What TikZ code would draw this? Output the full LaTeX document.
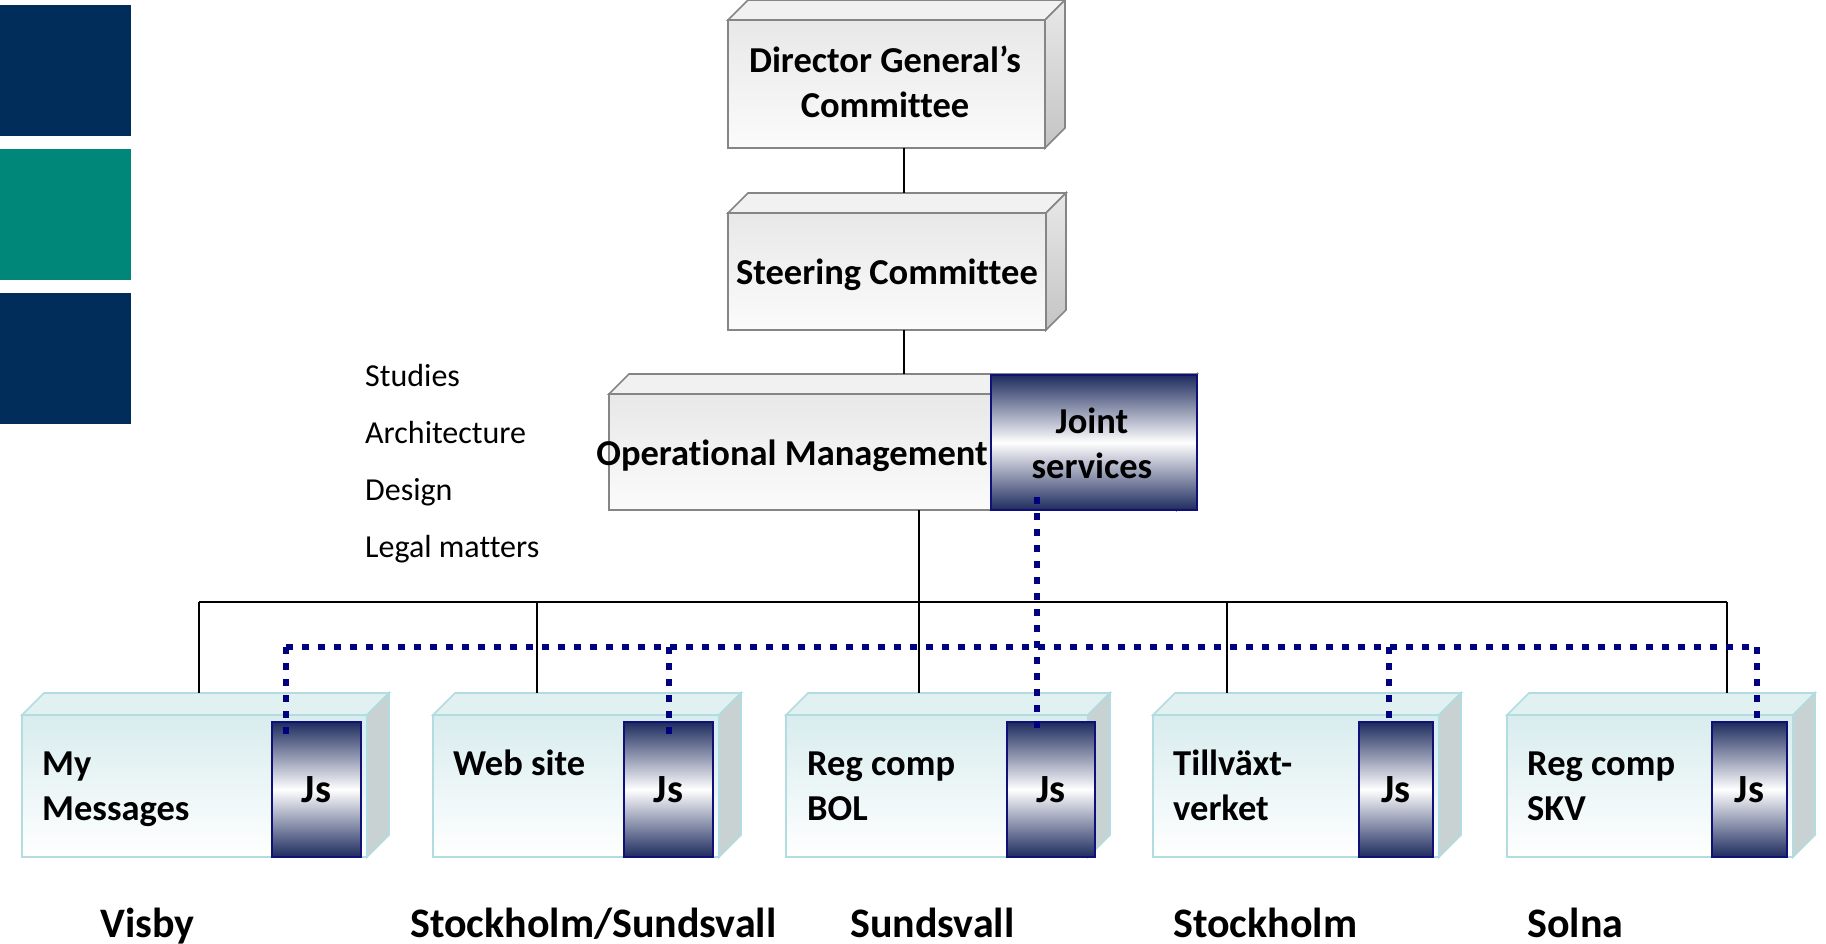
\documentclass[tikz,border=0pt]{standalone}
\usepackage{fontspec}
\setmainfont[Ligatures=NoCommon]{Carlito}
\usetikzlibrary{calc}

\definecolor{bandnavy}{HTML}{002D5A}
\definecolor{bandteal}{HTML}{00877A}
\definecolor{jsnavy}{HTML}{1E2B5E}
\definecolor{jsedge}{HTML}{10107A}
\definecolor{dotblue}{HTML}{000080}
\definecolor{grayedge}{HTML}{858585}
\definecolor{grayfronttop}{HTML}{E8E8E8}
\definecolor{grayfrontbot}{HTML}{FBFBFB}
\definecolor{graytopface}{HTML}{F1F1F1}
\definecolor{graysidetop}{HTML}{E8E8E8}
\definecolor{graysidebot}{HTML}{C4C4C4}
\definecolor{cyanedge}{HTML}{B2DCE0}
\definecolor{cyanfronttop}{HTML}{D8ECEE}
\definecolor{cyanfrontbot}{HTML}{FFFFFF}
\definecolor{cyantopface}{HTML}{E1F0F1}
\definecolor{cyanside}{HTML}{C9D2D3}

\newcommand{\slabdepth}{20}
% a box with a lit top face and a shaded right side; the front face is a named node
\newcommand{\slab}[8]{%
  \node[#2, inner sep=0pt, outer sep=0pt,
        minimum width={(#7-#5)*1pt}, minimum height={(#8-#6)*1pt}]
        (#1) at ({(#5+#7)/2},{(#6+#8)/2}) {};
  \path[#3] (#1.north west) -- ++(\slabdepth,-\slabdepth)
        -- ($(#1.north east)+(\slabdepth,-\slabdepth)$) -- (#1.north east) -- cycle;
  \path[#4] (#1.north east) -- ++(\slabdepth,-\slabdepth)
        -- ($(#1.south east)+(\slabdepth,-\slabdepth)$) -- (#1.south east) -- cycle;
  \coordinate (#1-back) at ($(#1.north)+(\slabdepth,-\slabdepth)$);
}
% a joint-services block, given by its corners
\newcommand{\jsblock}[6]{%
  \node[jsbox, minimum width={(#4-#2)*1pt}, minimum height={(#5-#3)*1pt}]
        (#1) at ({(#2+#4)/2},{(#3+#5)/2}) {#6};
}

\begin{document}
\begin{tikzpicture}[x=1pt,y=-1pt,
  grayfront/.style={draw=grayedge, line width=1.6pt, top color=grayfronttop, bottom color=grayfrontbot},
  graytop/.style={draw=grayedge, line width=1.6pt, fill=graytopface},
  grayside/.style={draw=grayedge, line width=1.6pt, top color=graysidetop, bottom color=graysidebot},
  cyanfront/.style={draw=cyanedge, line width=1.6pt, top color=cyanfronttop, bottom color=cyanfrontbot},
  cyantop/.style={draw=cyanedge, line width=1.6pt, fill=cyantopface},
  cyanside/.style={draw=cyanedge, line width=1.6pt, fill=cyanside},
  jsbox/.style={draw=jsedge, line width=1.3pt, inner sep=0pt, outer sep=0pt,
                top color=jsnavy, bottom color=jsnavy, middle color=white,
                font=\fontsize{40pt}{46pt}\selectfont\bfseries},
  headtxt/.style={font=\fontsize{36.5pt}{45pt}\selectfont\bfseries, align=center, inner sep=0pt},
  boxtxt/.style={font=\fontsize{36.5pt}{45pt}\selectfont\bfseries, align=left, inner sep=0pt},
  sitetxt/.style={font=\fontsize{42pt}{50pt}\selectfont\bfseries, inner sep=0pt},
  listtxt/.style={font=\fontsize{32pt}{38pt}\selectfont, inner sep=0pt},
  link/.style={draw=black, line width=1.3pt},
  jsline/.style={draw=dotblue, line width=6.5pt, dash pattern=on 7pt off 9pt}
]
\useasboundingbox (0,0) rectangle (1826,944);

% colour bands on the left edge
\fill[bandnavy] (0,5) rectangle (131,136);
\fill[bandteal] (0,149) rectangle (131,280);
\fill[bandnavy] (0,293) rectangle (131,424);

% x positions of the vertical links
\coordinate (xa) at (904,0);
\coordinate (xb) at (919,0);
\coordinate (d1) at (199,602);
\coordinate (d2) at (537,602);
\coordinate (d3) at (919,602);
\coordinate (d4) at (1227,602);
\coordinate (d5) at (1727,602);

% management tiers (multi-line labels are placed by their last baseline)
\slab{dg}{grayfront}{graytop}{grayside}{728}{20}{1045}{148}
\node[headtxt, anchor=base] (dgt) at (885,118) {Director General’s\\Committee};

\slab{st}{grayfront}{graytop}{grayside}{728}{213}{1046}{330}
\node[headtxt, anchor=base] (stt) at (887,284) {Steering Committee};

\slab{op}{grayfront}{graytop}{grayside}{609}{394}{1177}{510}
\node[headtxt, anchor=base] (opt) at (792,465) {Operational Management};
\jsblock{opjs}{991}{375}{1197}{510}{}
\node[headtxt, anchor=base] (opjst) at (1092,478) {Joint\\services};

% side activities
\node[listtxt, anchor=base west] (l1) at (365,386) {Studies};
\node[listtxt, anchor=base west] (l2) at (365,443) {Architecture};
\node[listtxt, anchor=base west] (l3) at (365,500) {Design};
\node[listtxt, anchor=base west] (l4) at (365,557) {Legal matters};

% hierarchy links
\draw[link] (dg.south -| xa) -- (st-back -| xa);
\draw[link] (st.south -| xa) -- (op-back -| xa);
\draw[link] (op.south -| xb) -- (d3);
\draw[link] (d1) -- (d5);

% component boxes
\renewcommand{\slabdepth}{22}
\slab{b1}{cyanfront}{cyantop}{cyanside}{22}{715}{367}{857}
\slab{b2}{cyanfront}{cyantop}{cyanside}{433}{715}{719}{857}
\slab{b3}{cyanfront}{cyantop}{cyanside}{786}{715}{1088}{857}
\slab{b4}{cyanfront}{cyantop}{cyanside}{1153}{715}{1439}{857}
\slab{b5}{cyanfront}{cyantop}{cyanside}{1507}{715}{1793}{857}

\draw[link] (d1) -- (d1 |- b1-back);
\draw[link] (d2) -- (d2 |- b2-back);
\draw[link] (d3) -- (d3 |- b3-back);
\draw[link] (d4) -- (d4 |- b4-back);
\draw[link] (d5) -- (d5 |- b5-back);

\jsblock{b1js}{272}{722}{361}{857}{Js}
\jsblock{b2js}{624}{722}{713}{857}{Js}
\jsblock{b3js}{1007}{722}{1095}{857}{Js}
\jsblock{b4js}{1359}{722}{1433}{857}{Js}
\jsblock{b5js}{1712}{722}{1787}{857}{Js}

\node[boxtxt, anchor=base west] (b1t) at (42,820) {My\\Messages};
\node[boxtxt, anchor=base west] (b2t) at (453,775) {Web site};
\node[boxtxt, anchor=base west] (b3t) at (807,820) {Reg comp\\BOL};
\node[boxtxt, anchor=base west] (b4t) at (1173,820) {Tillväxt-\\verket};
\node[boxtxt, anchor=base west] (b5t) at (1527,820) {Reg comp\\SKV};

% joint-services links
\coordinate (h1) at (286,647);
\coordinate (h2) at (669,647);
\coordinate (h3) at (1037,647);
\coordinate (h4) at (1389,647);
\coordinate (h5) at (1757,647);
\draw[jsline] (h1) -- (h5);
\draw[jsline] ($(opjs.south -| h3)+(0,-13)$) -- ($(b3js.north -| h3)+(0,14)$);
\draw[jsline] (h1) -- ($(b1js.north -| h1)+(0,14)$);
\draw[jsline] (h2) -- ($(b2js.north -| h2)+(0,14)$);
\draw[jsline] (h4) -- (b4js.north -| h4);
\draw[jsline] (h5) -- (b5js.north -| h5);

% locations
\node[sitetxt, anchor=base west] (s1) at (100,937) {Visby};
\node[sitetxt, anchor=base west] (s2) at (410,937) {Stockholm/Sundsvall};
\node[sitetxt, anchor=base west] (s3) at (850,937) {Sundsvall};
\node[sitetxt, anchor=base west] (s4) at (1173,937) {Stockholm};
\node[sitetxt, anchor=base west] (s5) at (1527,937) {Solna};
\end{tikzpicture}
\end{document}
